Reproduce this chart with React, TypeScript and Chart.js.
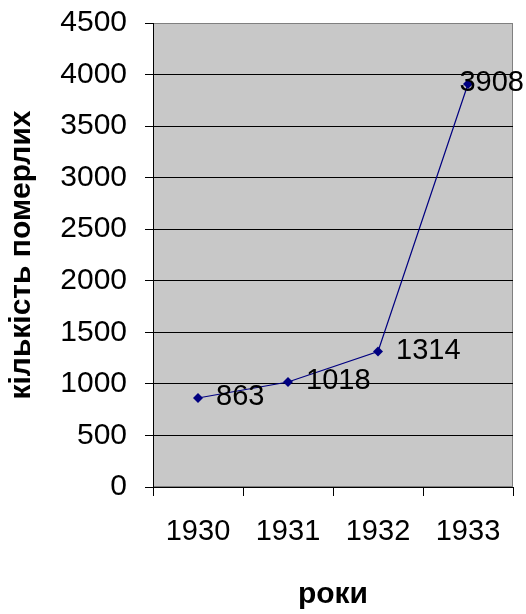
import React, { useEffect, useRef } from "react";
import { Chart, registerables } from "chart.js";

Chart.register(...registerables);

const years = ["1930", "1931", "1932", "1933"];
const deaths = [863, 1018, 1314, 3908];
const yTitle = "кількість померлих";
const xTitle = "роки";

const FONT = "'Liberation Sans', Arial, sans-serif";

const plotBg = {
  id: "plotBg",
  beforeDraw(chart: any) {
    const { ctx, chartArea: a } = chart;
    ctx.save();
    ctx.fillStyle = "#c8c8c8";
    ctx.fillRect(a.left, a.top, a.right - a.left, a.bottom - a.top);
    ctx.strokeStyle = "#808080";
    ctx.lineWidth = 1;
    ctx.strokeRect(a.left + 0.5, a.top + 0.5, a.right - a.left - 1, a.bottom - a.top - 1);
    ctx.restore();
  },
};

const valueLabels = {
  id: "valueLabels",
  afterDatasetsDraw(chart: any) {
    const { ctx } = chart;
    const meta = chart.getDatasetMeta(0);
    const data = chart.data.datasets[0].data as number[];
    ctx.save();
    ctx.font = `29px ${FONT}`;
    ctx.fillStyle = "#000";
    ctx.textBaseline = "middle";
    ctx.textAlign = "left";
    meta.data.forEach((pt: any, i: number) => {
      const txt = String(data[i]);
      const w = ctx.measureText(txt).width;
      let x = pt.x + 18;
      if (x + w > chart.width - 2) x = chart.width - 2 - w;
      ctx.fillText(txt, x, pt.y - 1);
    });
    ctx.restore();
  },
};

export default function App() {
  const ref = useRef<HTMLCanvasElement>(null);
  useEffect(() => {
    const chart = new Chart(ref.current!, {
      type: "line",
      data: {
        labels: years,
        datasets: [
          {
            data: deaths,
            borderColor: "#000080",
            backgroundColor: "#000080",
            borderWidth: 1.2,
            pointStyle: "rectRot",
            pointRadius: 5,
            pointBorderWidth: 0,
            tension: 0,
          },
        ],
      },
      options: {
        animation: false,
        responsive: false,
        devicePixelRatio: 1,
        layout: { autoPadding: false, padding: { top: 23, right: 13, left: 0, bottom: 0 } },
        plugins: { legend: { display: false }, tooltip: { enabled: false } },
        scales: {
          x: {
            type: "category",
            offset: true,
            afterFit: (s: any) => {
              s.height = 127;
              s.paddingLeft = 0;
              s.paddingRight = 0;
            },
            grid: {
              offset: true,
              drawOnChartArea: false,
              drawTicks: true,
              tickLength: 9,
              tickColor: "#000",
              color: "#000",
            },
            border: { display: true, color: "#000", width: 1 },
            ticks: {
              color: "#000",
              font: { family: FONT, size: 29 },
              padding: 19,
              maxRotation: 0,
              autoSkip: false,
            },
            title: {
              display: true,
              text: xTitle,
              color: "#000",
              font: { family: FONT, size: 30, weight: "bold" },
              padding: { top: 0, bottom: 1 },
            },
          },
          y: {
            min: 0,
            max: 4500,
            afterFit: (s: any) => {
              s.width = 153;
              s.paddingTop = 0;
              s.paddingBottom = 0;
            },
            grid: {
              color: (c: any) => (c.tick && c.tick.value === 4500 ? "#808080" : "#000"),
              lineWidth: 1,
              drawTicks: true,
              tickLength: 8,
              tickColor: "#000",
            },
            border: { display: true, color: "#000", width: 1 },
            ticks: {
              stepSize: 500,
              color: "#000",
              font: { family: FONT, size: 30 },
              padding: 18,
              callback: (v: any) => String(v),
            },
            title: {
              display: true,
              text: yTitle,
              color: "#000",
              font: { family: FONT, size: 30, weight: "bold" },
              padding: { top: 4, bottom: 0 },
            },
          },
        },
      },
      plugins: [plotBg, valueLabels],
    });
    return () => chart.destroy();
  }, []);
  return (
    <div style={{ position: "fixed", left: 0, top: 0, width: 526, height: 614, background: "#fff" }}>
      <canvas ref={ref} width={526} height={614} />
    </div>
  );
}
